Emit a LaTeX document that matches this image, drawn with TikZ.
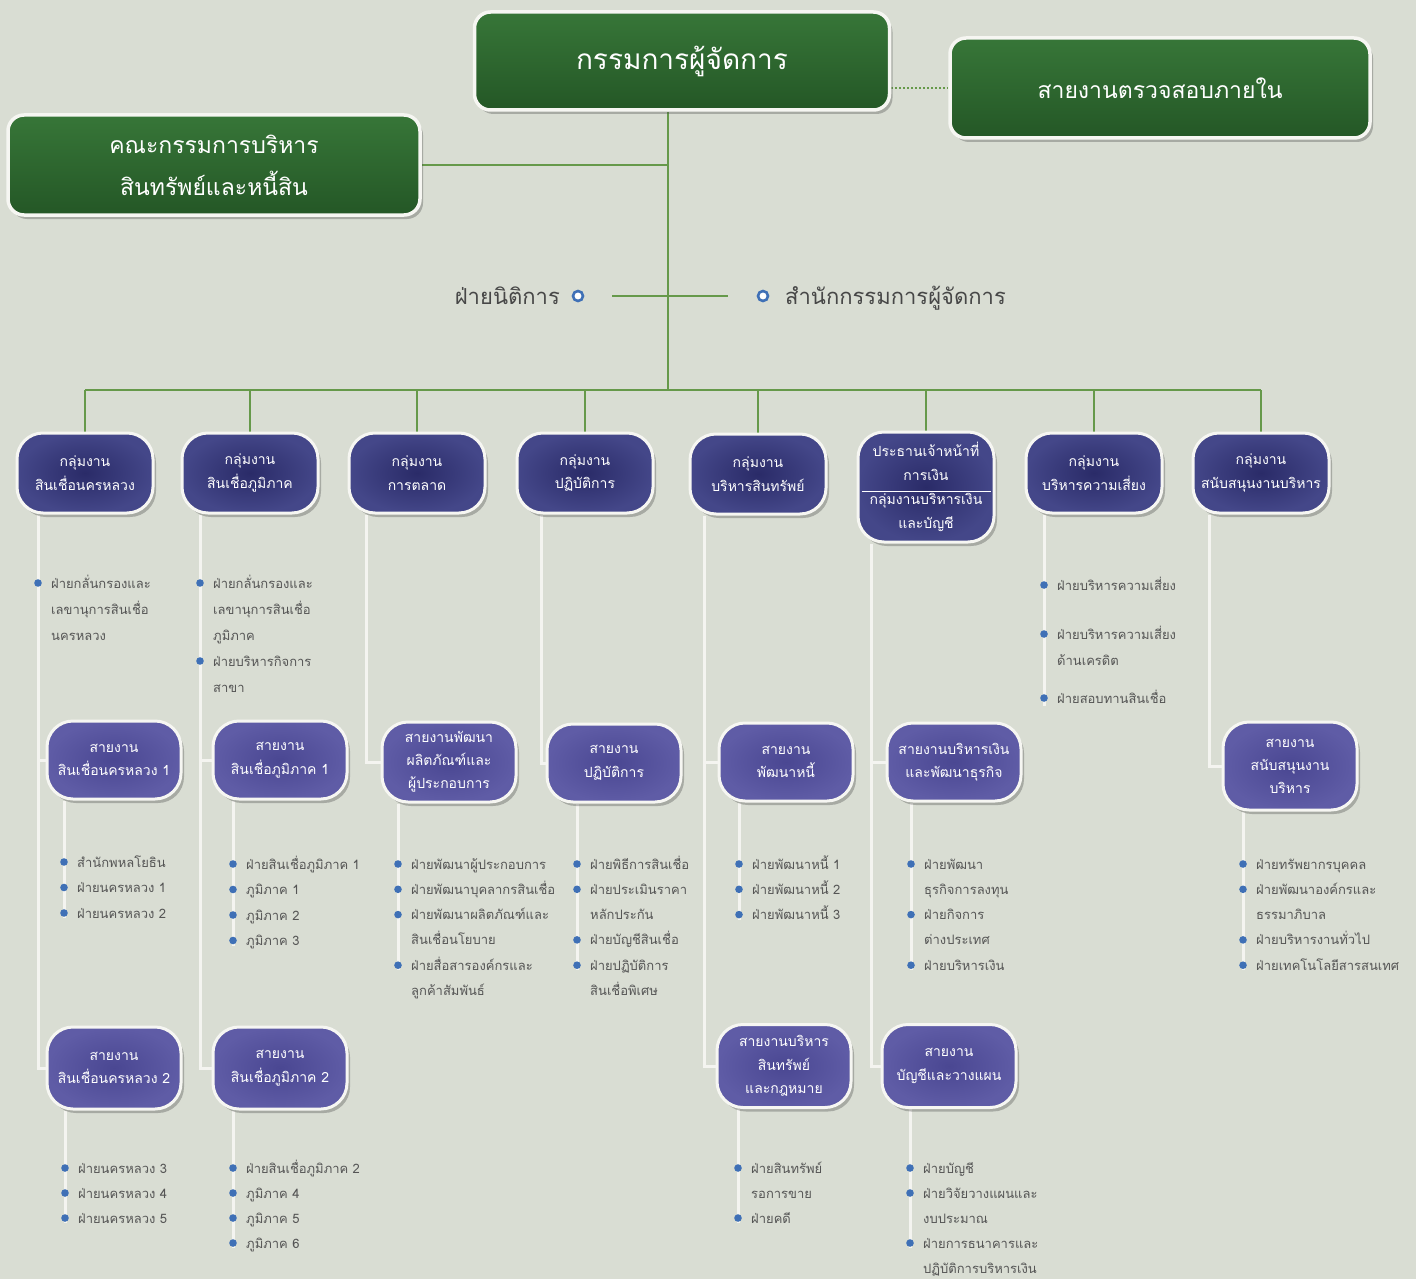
\documentclass[tikz,border=0pt]{standalone}
\usepackage{fontspec}
\newfontfamily\thai[Script=Thai]{Loma}
\usetikzlibrary{shadows,calc}
\definecolor{bgc}{HTML}{D9DDD3}
\definecolor{grn1}{HTML}{377638}
\definecolor{grn2}{HTML}{245726}
\definecolor{nav1}{HTML}{2A2B68}
\definecolor{nav2}{HTML}{444789}
\definecolor{pur1}{HTML}{4A4792}
\definecolor{pur2}{HTML}{5F5CA6}
\definecolor{edgec}{HTML}{F6F6F2}
\definecolor{glin}{HTML}{66994A}
\definecolor{wlin}{HTML}{F4F4F0}
\definecolor{bul}{HTML}{3F70B6}
\definecolor{txt}{HTML}{555555}
\pgfdeclarelayer{bgl}\pgfdeclarelayer{lnl}\pgfsetlayers{bgl,lnl,main}
\newcommand\bulletlist[6]{%
  \coordinate (#1x) at (#2,0);
  \foreach \t [count=\i from 0] in {#5} {\node[itm] (#1\i) at ({#2+13},{#3+5+\i*#4}) {\t};}
  \foreach \j in {#6} {\fill[bul] (#2,{#3+\j*#4}) circle (3.8pt);}
}
\begin{document}
\begin{tikzpicture}[x=1pt,y=-1pt,
  shd/.style={drop shadow={shadow xshift=3pt,shadow yshift=-4pt,opacity=.35,fill=black!70}},
  greenbox/.style={shd,draw=edgec,line width=3.5pt,rounded corners=16pt,top color=grn1,bottom color=grn2,
     text=white,align=center,inner sep=0pt},
  navbox/.style={shd,draw=edgec,line width=3pt,rounded corners=26pt,inner color=nav1,outer color=nav2,
     text=white,align=center,inner sep=0pt,minimum width=136pt,minimum height=80pt,
     font=\thai\fontsize{14}{23.5}\selectfont},
  purbox/.style={navbox,inner color=pur1,outer color=pur2,minimum width=134pt,minimum height=78pt},
  itm/.style={anchor=base west,inner sep=0pt,text=txt,font=\thai\fontsize{13}{25}\selectfont},
  legal/.style={inner sep=0pt,text=black!72,font=\thai\fontsize{22}{26}\selectfont},
  ring/.style={circle,draw=bul,line width=2.6pt,fill=white,minimum size=10pt,inner sep=0pt},
  gline/.style={draw=glin,line width=2pt},
  wline/.style={draw=wlin,line width=3pt},
  sep/.style={draw=white,line width=1pt}]
\useasboundingbox (0,0) rectangle (1416,1279);
\begin{pgfonlayer}{bgl}
  \fill[bgc] (0,0) rectangle (1416,1279);
\end{pgfonlayer}

% top level
\node[greenbox,minimum width=415pt,minimum height=98pt,font=\thai\fontsize{28}{34}\selectfont] (gm) at (682,61) {กรรมการผู้จัดการ};
\node[greenbox,minimum width=420pt,minimum height=100pt,font=\thai\fontsize{23}{30}\selectfont] (audit) at (1160,88) {สายงานตรวจสอบภายใน};
\node[greenbox,minimum width=412pt,minimum height=100pt,font=\thai\fontsize{23}{42}\selectfont] (alco) at (214,165) {คณะกรรมการบริหาร\\สินทรัพย์และหนี้สิน};

\coordinate (tk) at (668,390);

% legal / office row
\node[legal,anchor=base east] (lgt) at (560,304) {ฝ่ายนิติการ};
\node[ring] (lgr) at (578,296) {};
\node[ring] (ofr) at (763,296) {};
\node[legal,anchor=base west] (oft) at (785,304) {สำนักกรรมการผู้จัดการ};

% level 2
\node[navbox] (b1) at (85,473) {กลุ่มงาน\\สินเชื่อนครหลวง};
\node[navbox] (b2) at (250,473) {กลุ่มงาน\\สินเชื่อภูมิภาค};
\node[navbox] (b3) at (417,473) {กลุ่มงาน\\การตลาด};
\node[navbox] (b4) at (585,473) {กลุ่มงาน\\ปฏิบัติการ};
\node[navbox] (b5) at (758,474) {กลุ่มงาน\\บริหารสินทรัพย์};
\node[navbox,minimum height=110pt,font=\thai\fontsize{14}{24}\selectfont] (b6) at (926,487) {ประธานเจ้าหน้าที่\\การเงิน\\กลุ่มงานบริหารเงิน\\และบัญชี};
\draw[sep] ($(b6.west)+(5,4)$) -- ($(b6.east)+(-5,4)$);
\node[navbox] (b7) at (1094,473) {กลุ่มงาน\\บริหารความเสี่ยง};
\node[navbox] (b8) at (1261,473) {กลุ่มงาน\\สนับสนุนงานบริหาร};

% level 3
\node[purbox] (s1a) at (114,760) {สายงาน\\สินเชื่อนครหลวง 1};
\node[purbox] (s2a) at (280,760) {สายงาน\\สินเชื่อภูมิภาค 1};
\node[purbox,minimum height=80pt,font=\thai\fontsize{14}{23}\selectfont] (s3) at (449,762) {สายงานพัฒนา\\ผลิตภัณฑ์และ\\ผู้ประกอบการ};
\node[purbox] (s4) at (614,763) {สายงาน\\ปฏิบัติการ};
\node[purbox] (s5a) at (786,762) {สายงาน\\พัฒนาหนี้};
\node[purbox] (s6a) at (954,762) {สายงานบริหารเงิน\\และพัฒนาธุรกิจ};
\node[purbox,minimum height=88pt,font=\thai\fontsize{14}{23}\selectfont] (s8) at (1290,766) {สายงาน\\สนับสนุนงาน\\บริหาร};
\node[purbox,minimum height=82pt] (s1b) at (114,1068) {สายงาน\\สินเชื่อนครหลวง 2};
\node[purbox,minimum height=82pt] (s2b) at (280,1068) {สายงาน\\สินเชื่อภูมิภาค 2};
\node[purbox,minimum height=83pt,font=\thai\fontsize{14}{23.5}\selectfont] (s5b) at (784,1066) {สายงานบริหาร\\สินทรัพย์\\และกฎหมาย};
\node[purbox,minimum height=83pt] (s6b) at (949,1066) {สายงาน\\บัญชีและวางแผน};

% bullet lists
\bulletlist{La}{38}{583}{26}{ฝ่ายกลั่นกรองและ,เลขานุการสินเชื่อ,นครหลวง}{0}
\bulletlist{Lb}{200}{583}{26}{ฝ่ายกลั่นกรองและ,เลขานุการสินเชื่อ,ภูมิภาค,ฝ่ายบริหารกิจการ,สาขา}{0,3}
\coordinate (Lcx) at (1044,0);
\node[itm] (Lc0) at (1057,590) {ฝ่ายบริหารความเสี่ยง};
\node[itm] (Lc1) at (1057,639) {ฝ่ายบริหารความเสี่ยง};
\node[itm] (Lc2) at (1057,665) {ด้านเครดิต};
\node[itm] (Lc3) at (1057,703) {ฝ่ายสอบทานสินเชื่อ};
\foreach \yy in {585,634,698} {\fill[bul] (1044,\yy) circle (3.8pt);}
\bulletlist{Ld}{64}{862}{25.5}{สำนักพหลโยธิน,ฝ่ายนครหลวง 1,ฝ่ายนครหลวง 2}{0,1,2}
\bulletlist{Le}{233}{864}{25.5}{ฝ่ายสินเชื่อภูมิภาค 1,ภูมิภาค 1,ภูมิภาค 2,ภูมิภาค 3}{0,1,2,3}
\bulletlist{Lf}{398}{864}{25.3}{ฝ่ายพัฒนาผู้ประกอบการ,ฝ่ายพัฒนาบุคลากรสินเชื่อ,ฝ่ายพัฒนาผลิตภัณฑ์และ,สินเชื่อนโยบาย,ฝ่ายสื่อสารองค์กรและ,ลูกค้าสัมพันธ์}{0,1,2,4}
\bulletlist{Lg}{577}{864}{25.3}{ฝ่ายพิธีการสินเชื่อ,ฝ่ายประเมินราคา,หลักประกัน,ฝ่ายบัญชีสินเชื่อ,ฝ่ายปฏิบัติการ,สินเชื่อพิเศษ}{0,1,3,4}
\bulletlist{Lh}{739}{864}{25.3}{ฝ่ายพัฒนาหนี้ 1,ฝ่ายพัฒนาหนี้ 2,ฝ่ายพัฒนาหนี้ 3}{0,1,2}
\bulletlist{Li}{911}{864}{25.3}{ฝ่ายพัฒนา,ธุรกิจการลงทุน,ฝ่ายกิจการ,ต่างประเทศ,ฝ่ายบริหารเงิน}{0,2,4}
\bulletlist{Lj}{1243}{864}{25.3}{ฝ่ายทรัพยากรบุคคล,ฝ่ายพัฒนาองค์กรและ,ธรรมาภิบาล,ฝ่ายบริหารงานทั่วไป,ฝ่ายเทคโนโลยีสารสนเทศ}{0,1,3,4}
\bulletlist{Lk}{65}{1168}{25}{ฝ่ายนครหลวง 3,ฝ่ายนครหลวง 4,ฝ่ายนครหลวง 5}{0,1,2}
\bulletlist{Ll}{233}{1168}{25}{ฝ่ายสินเชื่อภูมิภาค 2,ภูมิภาค 4,ภูมิภาค 5,ภูมิภาค 6}{0,1,2,3}
\bulletlist{Lm}{738}{1168}{25}{ฝ่ายสินทรัพย์,รอการขาย,ฝ่ายคดี}{0,2}
\bulletlist{Ln}{910}{1168}{25}{ฝ่ายบัญชี,ฝ่ายวิจัยวางแผนและ,งบประมาณ,ฝ่ายการธนาคารและ,ปฏิบัติการบริหารเงิน}{0,1,3}

\coordinate (c1) at (38,0);
\coordinate (c2) at (200,0);
\coordinate (c3) at (366,0);
\coordinate (c4) at (541,0);
\coordinate (c5) at (704,0);
\coordinate (c6) at (871,0);
\coordinate (c8) at (1209,0);
\coordinate (c7e) at (1044,706);

\begin{pgfonlayer}{lnl}
  % green connectors
  \draw[gline] (gm.south -| tk) -- (tk);
  \draw[gline] (alco.east) -- (alco.east -| tk);
  \draw[gline,dotted,line width=2.4pt] (gm.east |- audit.west) -- (audit.west);
  \draw[gline] ([xshift=34pt]lgr.center) -- ([xshift=-35pt]ofr.center);
  \draw[gline] (b1.north |- tk) -- (b8.north |- tk);
  \foreach \b in {b1,b2,b3,b4,b5,b6,b7,b8} {\draw[gline] (\b.north |- tk) -- (\b.north);}
  % white column lines
  \draw[wline] (b1.south -| c1) |- (s1b.west);
  \draw[wline] (c1 |- s1a.west) -- (s1a.west);
  \draw[wline] (b2.south -| c2) |- (s2b.west);
  \draw[wline] (c2 |- s2a.west) -- (s2a.west);
  \draw[wline] (b3.south -| c3) |- (s3.west);
  \draw[wline] (b4.south -| c4) |- (s4.west);
  \draw[wline] (b5.south -| c5) |- (s5b.west);
  \draw[wline] (c5 |- s5a.west) -- (s5a.west);
  \draw[wline] (b6.south -| c6) |- (s6b.west);
  \draw[wline] (c6 |- s6a.west) -- (s6a.west);
  \draw[wline] (b7.south -| c7e) -- (c7e);
  \draw[wline] (b8.south -| c8) |- (s8.west);
  % sub lines
  \draw[wline] (s1a.south -| Ldx) -- (Ldx |- Ld2.base);
  \draw[wline] (s2a.south -| Lex) -- (Lex |- Le3.base);
  \draw[wline] (s3.south -| Lfx) -- (Lfx |- Lf4.base);
  \draw[wline] (s4.south -| Lgx) -- (Lgx |- Lg4.base);
  \draw[wline] (s5a.south -| Lhx) -- (Lhx |- Lh2.base);
  \draw[wline] (s6a.south -| Lix) -- (Lix |- Li4.base);
  \draw[wline] (s8.south -| Ljx) -- (Ljx |- Lj4.base);
  \draw[wline] (s1b.south -| Lkx) -- (Lkx |- Lk2.base);
  \draw[wline] (s2b.south -| Llx) -- (Llx |- Ll3.base);
  \draw[wline] (s5b.south -| Lmx) -- (Lmx |- Lm2.base);
  \draw[wline] (s6b.south -| Lnx) -- (Lnx |- Ln3.base);
\end{pgfonlayer}
\end{tikzpicture}
\end{document}
